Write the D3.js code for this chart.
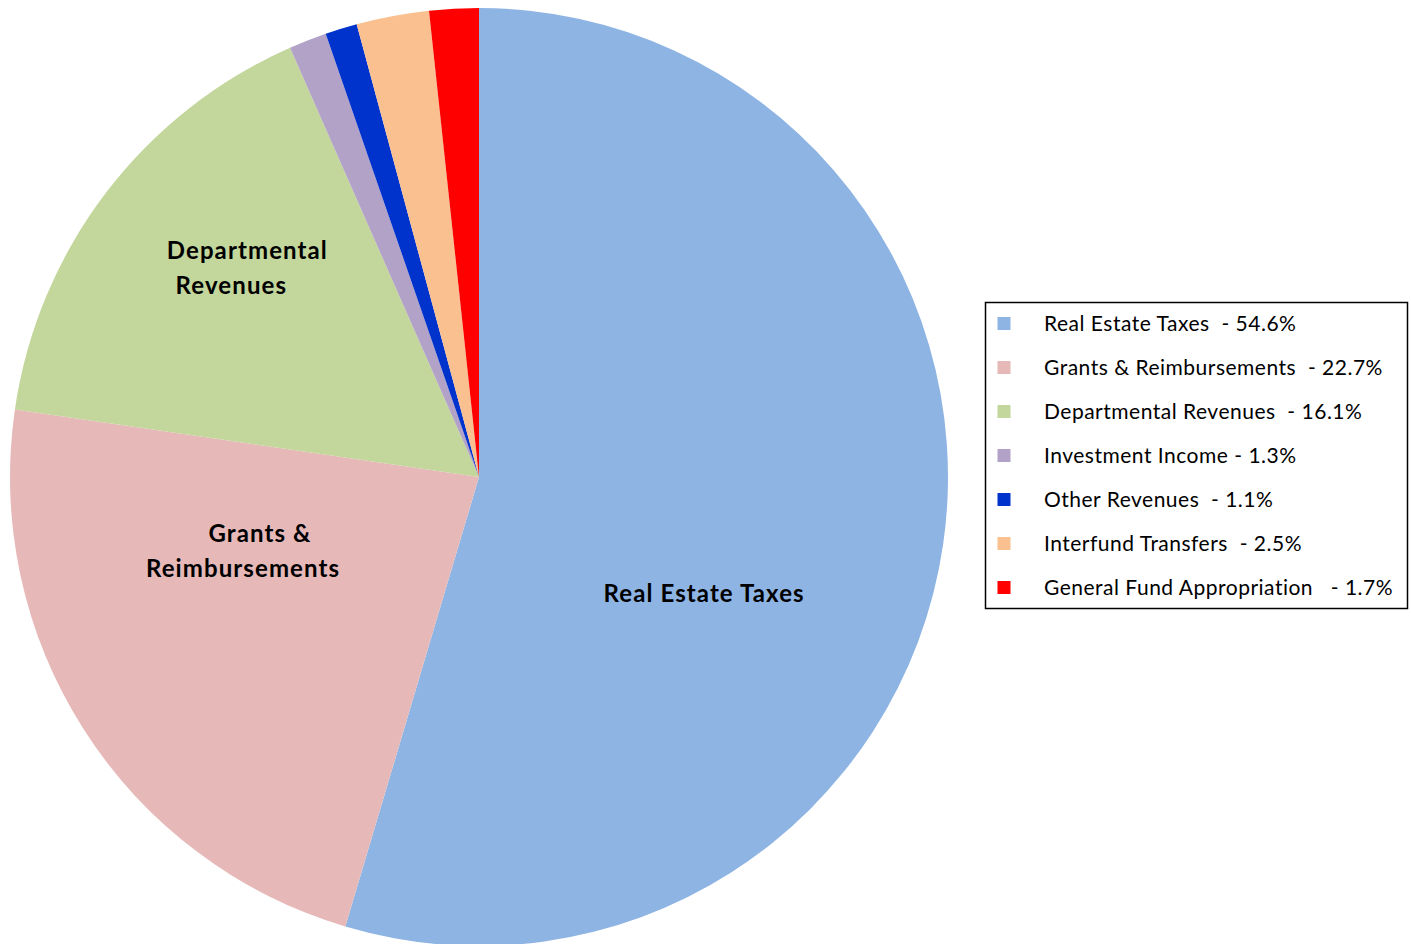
<!DOCTYPE html>
<html><head><meta charset="utf-8">
<script src="https://cdn.jsdelivr.net/npm/d3@7"></script>
<style>body{margin:0;background:#fff;} svg{display:block;}</style>
</head><body>
<svg id="chart" width="1411" height="944"></svg>
<script>
const categories = ["Real Estate Taxes","Grants & Reimbursements","Departmental Revenues","Investment Income","Other Revenues","Interfund Transfers","General Fund Appropriation"];
const values = [54.6, 22.7, 16.1, 1.3, 1.1, 2.5, 1.7];
const legendLabels = ["Real Estate Taxes  - 54.6%","Grants & Reimbursements  - 22.7%","Departmental Revenues  - 16.1%","Investment Income - 1.3%","Other Revenues  - 1.1%","Interfund Transfers  - 2.5%","General Fund Appropriation   - 1.7%"];
const colors = ["#8EB4E3","#E6B9B8","#C3D69B","#B3A2C7","#0033CC","#FAC090","#FF0000"];
// in-slice labels (lines) with offsets from center as fraction of radius
const sliceLabels = [
  {i:0, lines:["Real Estate Taxes"], shifts:[0], dx:0.480, dy:0.250},
  {i:1, lines:["Grants &","Reimbursements"], shifts:[8.5,-8.5], dx:-0.485, dy:0.158},
  {i:2, lines:["Departmental","Revenues"], shifts:[8,-8], dx:-0.511, dy:-0.445}
];

const svg = d3.select("#chart");
const cx = 479, cy = 477, R = 469;
const font = "Lato, 'Open Sans', sans-serif";

const pie = d3.pie().sort(null).value(d => d)(values);
const arc = d3.arc().innerRadius(0).outerRadius(R);
const g = svg.append("g").attr("transform", `translate(${cx},${cy})`);
g.selectAll("path").data(pie).join("path")
  .attr("d", arc).attr("fill", (d,i) => colors[i]);

sliceLabels.forEach(l => {
  const t = g.append("text")
    .attr("x", l.dx*R).attr("y", l.dy*R)
    .attr("text-anchor","middle")
    .attr("font-family", font).attr("font-weight","bold").attr("font-size", 24)
    .attr("letter-spacing", 1.1)
    .attr("fill","#000");
  const n = l.lines.length;
  l.lines.forEach((s, k) => {
    t.append("tspan").attr("x", l.dx*R + l.shifts[k])
      .attr("dy", k === 0 ? ((-(n-1)/2)*35 + 8) : 35).text(s);
  });
});

// legend
const lg = svg.append("g");
lg.append("rect").attr("x",985.5).attr("y",302.5).attr("width",422).attr("height",306)
  .attr("fill","#fff").attr("stroke","#000").attr("stroke-width",1.5);
const ly = d3.scalePoint().domain(d3.range(categories.length)).range([323, 587]);
categories.forEach((c,i) => {
  lg.append("rect").attr("x",997.5).attr("y",ly(i)-6).attr("width",13).attr("height",13).attr("fill",colors[i]);
  lg.append("text").attr("x",1044).attr("y",ly(i)+7.5)
    .attr("font-family",font).attr("font-size",21).attr("letter-spacing",0.5).attr("fill","#000")
    .style("white-space","pre").text(legendLabels[i]);
});
</script>
</body></html>
